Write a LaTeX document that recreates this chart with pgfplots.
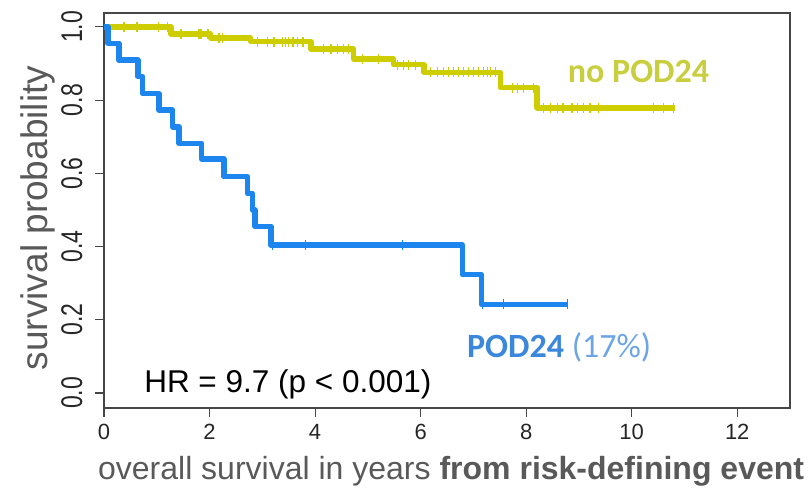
\documentclass[border=0pt]{standalone}
\usepackage{graphicx}
\usepackage{pgfplots}
\pgfplotsset{compat=1.18}
\usepackage{fontspec}
\setmainfont{Liberation Sans}
\newfontfamily\calibri{Carlito}
\definecolor{kmyellow}{RGB}{205,205,0}
\definecolor{kmblue}{RGB}{28,134,238}
\definecolor{txtyellow}{RGB}{201,206,62}
\definecolor{txtblue}{RGB}{59,135,220}
\definecolor{txtlblue}{RGB}{108,164,228}
\definecolor{labgray}{RGB}{89,89,89}
\definecolor{axgray}{RGB}{70,70,70}
\newcommand{\yl}[1]{\scalebox{1}[1.3]{#1}}

\pgfplotstableread{
x y
0 1
1.27 0.981
2.02 0.970
2.78 0.960
3.92 0.940
4.73 0.913
5.49 0.897
6.06 0.876
7.51 0.834
8.21 0.779
10.82 0.779
}\nopod

\pgfplotstableread{
x y
0.38 1
0.61 1
0.64 1
1.04 1
1.21 1
1.46 0.981
1.80 0.981
1.84 0.981
1.97 0.981
2.18 0.970
2.25 0.970
2.91 0.960
3.10 0.960
3.22 0.960
3.39 0.960
3.44 0.960
3.50 0.960
3.58 0.960
3.67 0.960
3.77 0.960
4.16 0.940
4.30 0.940
4.43 0.940
4.54 0.940
4.64 0.940
4.90 0.913
5.20 0.913
5.56 0.897
5.68 0.897
5.77 0.897
5.90 0.897
6.19 0.876
6.32 0.876
6.43 0.876
6.53 0.876
6.62 0.876
6.72 0.876
6.81 0.876
6.91 0.876
7.00 0.876
7.10 0.876
7.19 0.876
7.27 0.876
7.32 0.876
7.42 0.876
7.74 0.834
7.83 0.834
7.95 0.834
8.14 0.834
8.33 0.779
8.46 0.779
8.59 0.779
8.70 0.779
8.87 0.779
8.97 0.779
9.08 0.779
9.21 0.779
9.37 0.779
10.41 0.779
10.60 0.779
10.79 0.779
}\nopodcens

\pgfplotstableread{
x y
0 1
0.08 0.955
0.28 0.909
0.64 0.864
0.73 0.818
1.04 0.773
1.30 0.727
1.42 0.682
1.85 0.639
2.27 0.591
2.72 0.545
2.81 0.500
2.86 0.455
3.16 0.404
6.79 0.323
7.15 0.242
8.78 0.242
}\pod

\pgfplotstableread{
x y
3.20 0.404
3.82 0.404
5.66 0.404
7.17 0.242
7.57 0.242
8.78 0.242
}\podcens

\begin{document}
\begin{tikzpicture}
\begin{axis}[
  at={(104pt,84pt)}, anchor=south west,
  scale only axis, width=686pt, height=395pt,
  xmin=0, xmax=13, ymin=-0.041, ymax=1.038,
  xtick={0,2,4,6,8,10,12}, xticklabels={0,2,4,6,8,10,12},
  ytick={0,0.2,0.4,0.6,0.8,1}, yticklabels={\yl{0.0},\yl{0.2},\yl{0.4},\yl{0.6},\yl{0.8},\yl{1.0}},
  xtick pos=left, ytick pos=left,
  tick align=outside, major tick length=9pt,
  axis line style={axgray, line width=1.3pt},
  every tick/.style={axgray, line width=1.1pt},
  tick label style={font=\fontsize{22}{26}\selectfont, text=black!85},
  yticklabel style={font=\fontsize{23}{27}\selectfont, rotate=90, anchor=south, yshift=9pt},
  xticklabel style={yshift=-4pt},
  clip=false,
]
\addplot[const plot, kmyellow, line width=5.5pt, line join=round] table[x=x,y=y] {\nopod};
\addplot[only marks, mark=|, mark size=5pt, kmyellow, mark options={line width=1.2pt}] table[x=x,y=y] {\nopodcens};
\addplot[const plot, kmblue, line width=5.5pt, line join=round] table[x=x,y=y] {\pod};
\addplot[only marks, mark=|, mark size=5pt, kmblue, mark options={line width=1.2pt}] table[x=x,y=y] {\podcens};

\node[anchor=base west, inner sep=0pt, font=\calibri\bfseries\fontsize{34}{40}\selectfont, text=txtyellow] at (rel axis cs:0.676,0.825) {no POD24};
\node[anchor=base west, font=\calibri\fontsize{34}{40}\selectfont, text=txtblue, inner sep=0pt] at (rel axis cs:0.529,0.129) {\bfseries POD24 \mdseries\color{txtlblue}(17\%)};
\node[anchor=base, font=\fontsize{31.5}{36}\selectfont, text=black, inner sep=0pt] at (rel axis cs:0.268,0.0405) {HR = 9.7 (p < 0.001)};
\node[anchor=base, font=\fontsize{32}{38}\selectfont, text=labgray, inner sep=0pt] at (rel axis cs:0.506,-0.182) {overall survival in years \textbf{from risk-defining event}};
\node[anchor=base, rotate=90, font=\fontsize{37}{43}\selectfont, text=labgray, inner sep=0pt] at (rel axis cs:-0.083,0.481) {survival probability};
\end{axis}
\pgfresetboundingbox
\path[use as bounding box] (0,0) rectangle (810pt,492pt);
\end{tikzpicture}
\end{document}
